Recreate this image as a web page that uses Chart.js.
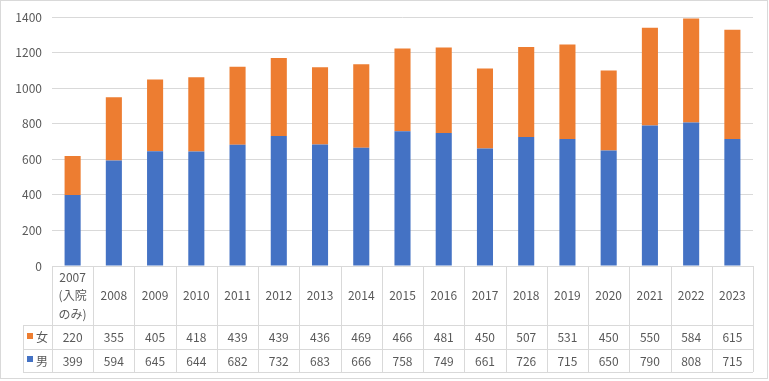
<!DOCTYPE html>
<html><head><meta charset="utf-8">
<script src="https://cdn.jsdelivr.net/npm/chart.js@4"></script>
<style>html,body{margin:0;padding:0;background:#fff}#wrap{position:relative;width:769px;height:381px}</style>
</head><body><div id="wrap"><canvas id="c" width="769" height="381"></canvas></div>
<script>
const categories = ["2007\n(入院\nのみ)","2008","2009","2010","2011","2012","2013","2014","2015","2016","2017","2018","2019","2020","2021","2022","2023"];
const female = [220,355,405,418,439,439,436,469,466,481,450,507,531,450,550,584,615];
const male = [399,594,645,644,682,732,683,666,758,749,661,726,715,650,790,808,715];
const seriesNames = ["女","男"];
const yTicks = [0,200,400,600,800,1000,1200,1400];

const BLUE = "#4472C4", ORANGE = "#ED7D31", GRID = "#d9d9d9", TXT = "#595959";
const FAMILY = "'Noto Sans CJK JP', 'Noto Sans', sans-serif";
const FONT = "12px " + FAMILY;

const tablePlugin = {
  id: 'dataTable',
  afterDraw(chart) {
    const ctx = chart.ctx;
    const x = chart.scales.x, area = chart.chartArea;
    const n = categories.length;
    const left = area.left, right = area.right;
    const colW = (right - left) / n;
    const top = area.bottom;
    const row1 = top + 59, row2 = row1 + 23.5, row3 = row2 + 23.5;
    const legL = 23;
    ctx.save();
    ctx.strokeStyle = GRID; ctx.lineWidth = 1;
    ctx.beginPath();
    ctx.moveTo(left, Math.round(top) + 0.5); ctx.lineTo(right, Math.round(top) + 0.5);
    [row1, row2, row3].forEach(yy => { ctx.moveTo(legL, Math.round(yy) + 0.5); ctx.lineTo(right, Math.round(yy) + 0.5); });
    for (let i = 0; i <= n; i++) {
      const xx = Math.round(left + i * colW) + 0.5;
      ctx.moveTo(xx, top); ctx.lineTo(xx, row3);
    }
    ctx.moveTo(legL + 0.5, row1); ctx.lineTo(legL + 0.5, row3);
    ctx.stroke();
    ctx.fillStyle = TXT; ctx.font = FONT; ctx.textAlign = 'center'; ctx.textBaseline = 'middle';
    for (let i = 0; i < n; i++) {
      const cx = x.getPixelForValue(i);
      const lines = categories[i].split("\n");
      const lh = 18.5;
      const mid = (top + row1) / 2;
      lines.forEach((t, k) => ctx.fillText(t, cx, mid + (k - (lines.length - 1) / 2) * lh));
      ctx.fillText(String(female[i]), cx, (row1 + row2) / 2 + 1);
      ctx.fillText(String(male[i]), cx, (row2 + row3) / 2 + 1);
    }
    const keys = [[ORANGE, seriesNames[0], (row1 + row2) / 2], [BLUE, seriesNames[1], (row2 + row3) / 2]];
    keys.forEach(([col, name, cy]) => {
      ctx.fillStyle = col; ctx.fillRect(27, Math.round(cy) - 4, 6, 6);
      ctx.fillStyle = TXT; ctx.textAlign = 'left';
      ctx.fillText(name, 36, cy + 1);
    });
    ctx.strokeStyle = GRID; ctx.strokeRect(0.5, 0.5, 767, 378);
    ctx.restore();
  }
};

new Chart(document.getElementById('c'), {
  type: 'bar',
  data: {
    labels: categories,
    datasets: [
      { label: seriesNames[1], data: male, backgroundColor: BLUE, barPercentage: 0.78, categoryPercentage: 0.5 },
      { label: seriesNames[0], data: female, backgroundColor: ORANGE, barPercentage: 0.78, categoryPercentage: 0.5 }
    ]
  },
  options: {
    responsive: false, animation: false,
    layout: { padding: { left: 0, right: 16, top: 15, bottom: 115 } },
    plugins: { legend: { display: false }, tooltip: { enabled: false } },
    scales: {
      x: { stacked: true, ticks: { display: false }, grid: { display: false }, border: { display: false },
           afterFit(s) { s.height = 0; } },
      y: { stacked: true, min: 0, max: 1400,
           afterBuildTicks(s) { s.ticks = yTicks.map(v => ({ value: v })); },
           ticks: { color: TXT, font: { size: 12, family: FAMILY }, padding: 10, callback: v => String(v) },
           grid: { color: GRID, drawTicks: false }, border: { display: false },
           afterFit(s) { s.width = 52; } }
    }
  },
  plugins: [tablePlugin]
});
</script></body></html>
